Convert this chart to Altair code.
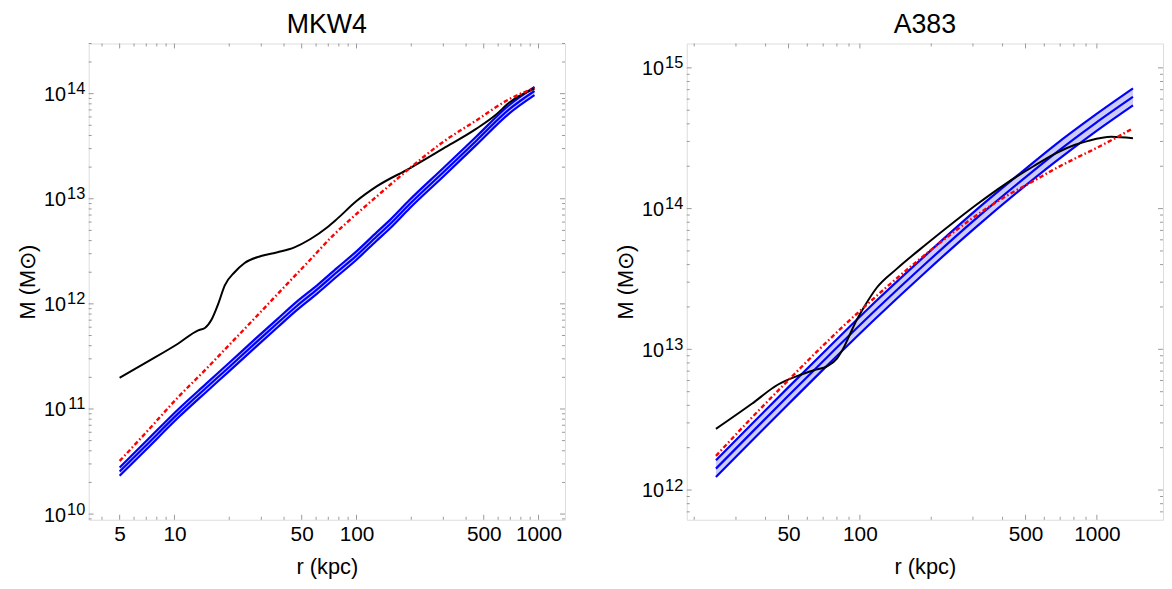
import math
import altair as alt
import pandas as pd

# ---------------- MKW4 (left panel) ----------------
mkw4_black_r = [5, 7.2, 10.5, 13.5, 14.7, 16.0, 17.4, 18.9, 21.4, 24.3, 29.9, 36.8, 45.6, 55.9, 68.9, 78, 100, 129, 196, 299, 454, 583, 689, 950]
mkw4_black_M = [1.98e11, 2.85e11, 4.2e11, 5.6e11, 5.9e11, 7.1e11, 1.0e12, 1.5e12, 2.0e12, 2.45e12, 2.85e12, 3.1e12, 3.45e12, 4.14e12, 5.33e12, 6.4e12, 9.5e12, 1.31e13, 1.95e13, 3.0e13, 4.62e13, 6.3e13, 8.2e13, 1.12e14]

mkw4_red_r = [5, 7, 10.5, 15, 20, 30, 40, 55, 75, 90.6, 129, 196, 299, 454, 689, 950]
mkw4_red_M = [3.2e10, 6.0e10, 1.3e11, 2.42e11, 4.07e11, 8.5e11, 1.44e12, 2.57e12, 4.54e12, 6.15e12, 1.05e13, 1.95e13, 3.47e13, 5.55e13, 8.85e13, 1.13e14]

mkw4_blue_r = [5, 7, 10.5, 15, 20, 28, 37, 47, 61, 78, 100, 129, 153, 196, 299, 454, 689, 950]
mkw4_blue_mid = [2.54e10, 4.52e10, 9.08e10, 1.60e11, 2.51e11, 4.28e11, 6.61e11, 9.55e11, 1.38e12, 2.00e12, 2.88e12, 4.37e12, 5.75e12, 8.91e12, 1.78e13, 3.55e13, 7.08e13, 1.06e14]
mkw4_blue_hi = [2.78e10, 4.95e10, 9.95e10, 1.75e11, 2.75e11, 4.69e11, 7.24e11, 1.05e12, 1.51e12, 2.19e12, 3.16e12, 4.79e12, 6.30e12, 9.77e12, 1.95e13, 3.89e13, 7.76e13, 1.16e14]
mkw4_blue_lo = [2.32e10, 4.12e10, 8.28e10, 1.46e11, 2.29e11, 3.90e11, 6.03e11, 8.71e11, 1.26e12, 1.82e12, 2.63e12, 3.99e12, 5.24e12, 8.13e12, 1.62e13, 3.24e13, 6.46e13, 9.67e13]

mkw4_x_domain = [3.38, 1397]
mkw4_y_domain = [8.83e9, 3.0e14]
mkw4_x_major = [5, 10, 50, 100, 500, 1000]
mkw4_x_minor = [4, 6, 7, 8, 9, 20, 30, 40, 60, 70, 80, 90, 200, 300, 400, 600, 700, 800, 900]
mkw4_y_major = [1e10, 1e11, 1e12, 1e13, 1e14]
mkw4_y_exponents = ["10", "11", "12", "13", "14"]

# ---------------- A383 (right panel) ----------------
a383_black_r = [24.7, 35, 45, 55, 64, 73, 80, 86, 91, 97, 104, 118, 143, 191, 255, 309, 412, 540, 667, 809, 919, 1150, 1420]
a383_black_M = [2.72e12, 4.1e12, 5.6e12, 6.5e12, 7.1e12, 7.6e12, 8.6e12, 1.05e13, 1.29e13, 1.62e13, 1.99e13, 2.75e13, 3.73e13, 5.6e13, 8.26e13, 1.06e14, 1.50e14, 2.0e14, 2.46e14, 2.84e14, 3.03e14, 3.24e14, 3.16e14]

a383_red_r = [24.7, 35, 50, 66, 85.5, 104, 130, 173, 239, 299, 412, 540, 667, 809, 981, 1150, 1420]
a383_red_M = [1.75e12, 3.27e12, 6.05e12, 9.66e12, 1.47e13, 1.99e13, 2.78e13, 4.18e13, 6.46e13, 8.57e13, 1.22e14, 1.57e14, 1.92e14, 2.27e14, 2.66e14, 3.06e14, 3.72e14]

a383_blue_r = [24.7, 35, 49.5, 72.9, 118, 191, 309, 480, 667, 981, 1420]
a383_blue_mid = [1.42e12, 2.57e12, 4.62e12, 8.83e12, 1.94e13, 4.12e13, 8.49e13, 1.58e14, 2.47e14, 4.02e14, 6.22e14]
a383_blue_hi = [1.63e12, 2.95e12, 5.30e12, 1.01e13, 2.23e13, 4.73e13, 9.75e13, 1.81e14, 2.84e14, 4.61e14, 7.14e14]
a383_blue_lo = [1.24e12, 2.24e12, 4.02e12, 7.69e12, 1.69e13, 3.59e13, 7.39e13, 1.38e14, 2.15e14, 3.50e14, 5.42e14]

a383_x_domain = [18.6, 1901]
a383_y_domain = [6.15e11, 1.49e15]
a383_x_major = [50, 100, 500, 1000]
a383_x_minor = [20, 30, 40, 60, 70, 80, 90, 200, 300, 400, 600, 700, 800, 900]
a383_y_major = [1e12, 1e13, 1e14, 1e15]
a383_y_exponents = ["12", "13", "14", "15"]

W = 481
H = 481
FONT = "Liberation Sans"
FRAME = "#999999"
BLUE = "#0000ff"
BAND = "#ccccf5"


def minor_y(domain):
    vals = []
    for k in range(8, 17):
        for m in range(2, 10):
            v = m * 10.0 ** k
            if domain[0] <= v <= domain[1]:
                vals.append(v)
    return vals


def panel(title, br, bM, rr, rM, ur, umid, uhi, ulo, xdom, ydom, xmaj, xmin, ymaj, yexp):
    xs = alt.Scale(type="log", domain=xdom, nice=False)
    ys = alt.Scale(type="log", domain=ydom, nice=False)
    first_exp = round(math.log10(ymaj[0]))
    exp_arr = "[" + ",".join("'" + s + "'" for s in yexp) + "]"
    xaxis = alt.Axis(values=xmaj, ticks=False, tickSize=0, domain=False, grid=False,
                     format="d", labelFontSize=21, labelFont=FONT, labelColor="black",
                     labelPadding=4, title="r (kpc)", titleFontSize=22, titleFont=FONT,
                     titleFontWeight="normal", titleColor="black", titlePadding=12,
                     labelFlush=False, labelOverlap=False)
    # base "10" of the y tick labels
    yaxis_base = alt.Axis(values=ymaj, ticks=False, tickSize=0, domain=False, grid=False,
                          orient="left", labelExpr="'10'",
                          labelFontSize=20, labelFont=FONT, labelColor="black", labelPadding=23.5,
                          labelOffset=1, labelBaseline="middle",
                          title="M (M⊙)", titleFontSize=22, titleFont=FONT, titleFontWeight="normal",
                          titleColor="black", titlePadding=4, labelFlush=False, labelOverlap=False)
    # superscript exponent of the y tick labels
    yaxis_exp = alt.Axis(values=ymaj, ticks=False, tickSize=0, domain=False, grid=False,
                         orient="left",
                         labelExpr=f"{exp_arr}[round(log(datum.value)/LN10) - {first_exp}]",
                         labelFontSize=16.5, labelFont=FONT, labelColor="black", labelPadding=4,
                         labelOffset=-5, labelBaseline="middle", title="",
                         labelFlush=False, labelOverlap=False)

    band_df = pd.DataFrame({"r": ur, "lo": ulo, "hi": uhi})
    blue_df = pd.concat([
        pd.DataFrame({"r": ur, "M": uhi, "s": "hi"}),
        pd.DataFrame({"r": ur, "M": umid, "s": "mid"}),
        pd.DataFrame({"r": ur, "M": ulo, "s": "lo"}),
    ])
    black_df = pd.DataFrame({"r": br, "M": bM})
    red_df = pd.DataFrame({"r": rr, "M": rM})

    X = alt.X("r:Q", scale=xs, axis=xaxis)
    Ynone = alt.Y("M:Q", scale=ys, axis=None)

    band = alt.Chart(band_df).mark_area(color=BAND, opacity=1, interpolate="monotone").encode(
        x=X, y=alt.Y("lo:Q", scale=ys, axis=yaxis_base), y2="hi:Q")
    blue = alt.Chart(blue_df).mark_line(color=BLUE, strokeWidth=2.2, interpolate="monotone").encode(
        x=X, y=alt.Y("M:Q", scale=ys, axis=yaxis_exp), detail="s:N")
    black = alt.Chart(black_df).mark_line(color="black", strokeWidth=2, interpolate="monotone").encode(
        x=X, y=Ynone)
    red = alt.Chart(red_df).mark_line(color="#ff0000", strokeWidth=2.4, strokeDash=[4.5, 2.5, 1.6, 2.5],
                                      interpolate="monotone").encode(x=X, y=Ynone)

    layers = [band, blue, black, red]

    def xticks(vals, L):
        d = pd.DataFrame({"r": vals})
        bot = alt.Chart(d).mark_rule(color=FRAME, strokeWidth=1).encode(
            x=X, y=alt.value(H), y2=alt.value(H - L))
        top = alt.Chart(d).mark_rule(color=FRAME, strokeWidth=1).encode(
            x=X, y=alt.value(0), y2=alt.value(L))
        return [bot, top]

    def yticks(vals, L):
        d = pd.DataFrame({"M": vals})
        lft = alt.Chart(d).mark_rule(color=FRAME, strokeWidth=1).encode(
            y=Ynone, x=alt.value(0), x2=alt.value(L))
        rgt = alt.Chart(d).mark_rule(color=FRAME, strokeWidth=1).encode(
            y=Ynone, x=alt.value(W - L), x2=alt.value(W))
        return [lft, rgt]

    layers += xticks(xmaj, 5) + xticks(xmin, 3)
    layers += yticks(ymaj, 5) + yticks(minor_y(ydom), 3)

    return alt.layer(*layers).resolve_axis(y="independent").properties(
        width=W, height=H,
        title=alt.TitleParams(title, fontSize=27, font=FONT, fontWeight="normal",
                              color="black", offset=4, anchor="middle"))


left = panel("MKW4", mkw4_black_r, mkw4_black_M, mkw4_red_r, mkw4_red_M,
             mkw4_blue_r, mkw4_blue_mid, mkw4_blue_hi, mkw4_blue_lo,
             mkw4_x_domain, mkw4_y_domain, mkw4_x_major, mkw4_x_minor,
             mkw4_y_major, mkw4_y_exponents)
right = panel("A383", a383_black_r, a383_black_M, a383_red_r, a383_red_M,
              a383_blue_r, a383_blue_mid, a383_blue_hi, a383_blue_lo,
              a383_x_domain, a383_y_domain, a383_x_major, a383_x_minor,
              a383_y_major, a383_y_exponents)

chart = alt.hconcat(left, right, spacing=48).properties(
    padding={"left": 7.5, "top": 0, "right": 0, "bottom": 0}
).configure_view(stroke=FRAME, strokeWidth=1).configure(background="white")

chart.save("out.html", embed_options={"renderer": "svg", "actions": False})
